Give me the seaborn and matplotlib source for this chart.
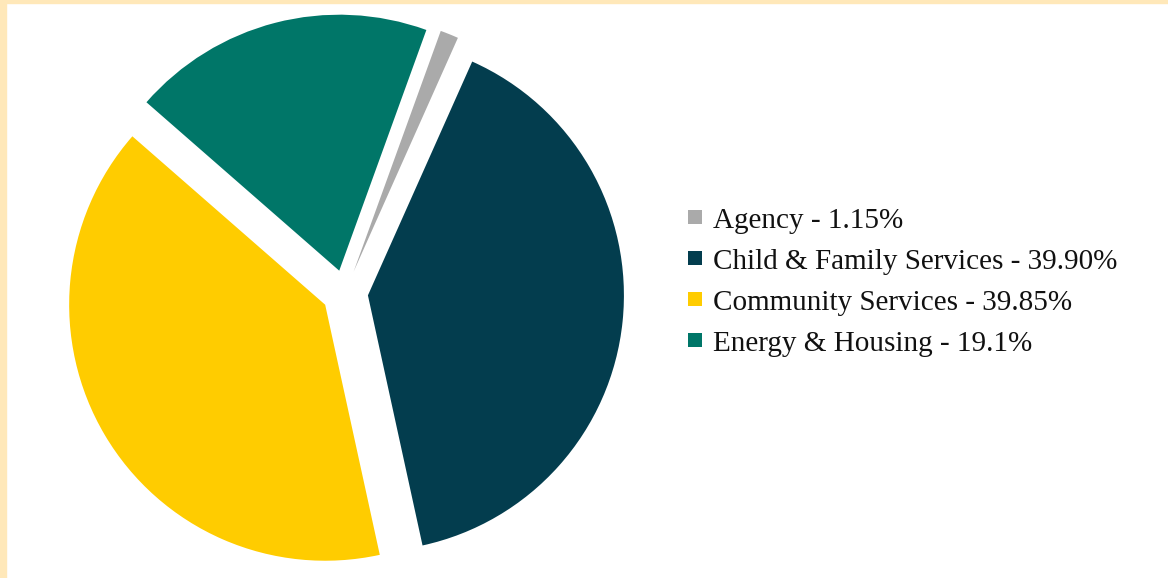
import matplotlib
matplotlib.use("Agg")
import matplotlib.pyplot as plt
from matplotlib.lines import Line2D
from matplotlib.patches import Rectangle
import seaborn as sns

# Data
categories = ["Agency", "Child & Family Services", "Community Services", "Energy & Housing"]
shares = [1.15, 39.90, 39.85, 19.1]
share_labels = ["1.15%", "39.90%", "39.85%", "19.1%"]
colors = ["#AAAAAA", "#033D4E", "#FFCC00", "#007668"]

sns.set_style("white")
plt.rcParams["font.family"] = ["Liberation Serif", "DejaVu Serif"]

fig = plt.figure(figsize=(11.68, 5.78), dpi=100)
fig.patch.set_facecolor("white")

# cream frame strips (left and top)
fig.patches.append(Rectangle((0, 0), 6 / 1168, 1, transform=fig.transFigure,
                             color="#FFE8B9", zorder=0))
fig.patches.append(Rectangle((0, 1 - 3 / 578), 1, 3 / 578, transform=fig.transFigure,
                             color="#FFE8B9", zorder=0))

# pie axes: 1 data unit = 256 px, centre at (345, 293)
lim = 1.2
size_px = 2 * lim * 256
ax = fig.add_axes([(345 - size_px / 2) / 1168, (285 - size_px / 2) / 578,
                   size_px / 1168, size_px / 578])
wedges, _ = ax.pie(shares, colors=colors, startangle=70.1, counterclock=False,
                   explode=[0.09] * len(shares), radius=1.0,
                   wedgeprops=dict(linewidth=0))
ax.set_xlim(-lim, lim)
ax.set_ylim(-lim, lim)
ax.set_aspect("equal")
ax.axis("off")

handles = [Line2D([0], [0], marker="s", linestyle="none", markersize=10,
                  markerfacecolor=c, markeredgewidth=0) for c in colors]
labels = [f"{c} - {s}" for c, s in zip(categories, share_labels)]
leg = fig.legend(handles, labels, loc="center left",
                 bbox_to_anchor=(684 / 1168, 1 - 282 / 578),
                 frameon=False, fontsize=21, handlelength=0.75, handletextpad=0.25,
                 labelspacing=0.5, borderpad=0, borderaxespad=0)
for t in leg.get_texts():
    t.set_color("#111111")

fig.savefig("out.png", dpi=100, facecolor="white")
